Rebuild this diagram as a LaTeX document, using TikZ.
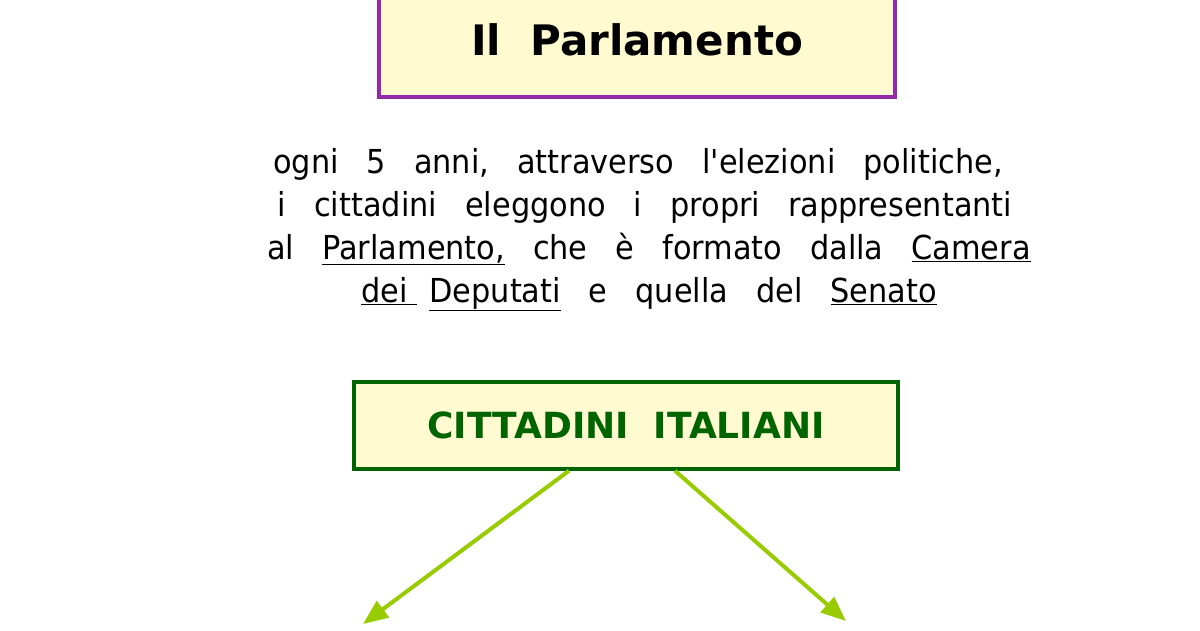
\documentclass[tikz,border=0pt]{standalone}
\usepackage{fontspec}
\setmainfont{DejaVu Sans}
\newfontfamily\parafont{DejaVu Sans}[FakeStretch=0.92, Ligatures=TeXOff]
\usepackage{tikz}
\usetikzlibrary{arrows.meta}

\definecolor{lemon}{RGB}{255,250,208}
\definecolor{titlepurple}{RGB}{150,40,170}
\definecolor{darkgreen}{RGB}{0,100,0}
\definecolor{arrowgreen}{RGB}{153,204,0}
\newcommand{\wide}{\spaceskip=28pt\relax}

\begin{document}
\begin{tikzpicture}[x=1pt, y=-1pt,
		titlebox/.style={draw=titlepurple, fill=lemon, line width=3.5pt, minimum width=516pt, minimum height=114pt, font=\bfseries\fontsize{42}{42}\selectfont},
		citbox/.style={draw=darkgreen, fill=lemon, line width=3.5pt, minimum width=544pt, minimum height=87pt, text=darkgreen, font=\bfseries\fontsize{36}{36}\selectfont},
		paraline/.style={anchor=base, inner sep=0pt, font=\parafont\fontsize{33}{43}\selectfont},
		arr/.style={draw=arrowgreen, line width=4pt, -{Triangle[length=25pt, width=20pt]}}]
	\useasboundingbox (0,0) rectangle (1200,630);
	
	% Draw the title box
	\node[titlebox] (title) at (637,40) {Il\ \ Parlamento};
	
	% Write the text under the title
	\node[paraline] (l1) at (638,173) {\wide ogni 5 anni, attraverso l'elezioni politiche,};
	\node[paraline] (l2) at (645,216) {\wide i cittadini eleggono i propri rappresentanti};
	\node[paraline] (l3) at (649,259) {\wide al \underline{Parlamento,} che è formato dalla \underline{Camera}};
	\node[paraline] (l4) at (649,302) {\wide \underline{dei\kern10pt}\kern12pt\underline{Deputati} e quella del \underline{Senato}};
	
	% Draw the citizens box
	\node[citbox] (cit) at (626,425.5) {CITTADINI\ \ ITALIANI};
	
	% Draw the two arrows going down
	\coordinate (left) at (363,624);
	\coordinate (right) at (846,621);
	\draw[arr] ([xshift=-57pt]cit.south) -- (left);
	\draw[arr] ([xshift=49pt]cit.south) -- (right);
\end{tikzpicture}
\end{document}
